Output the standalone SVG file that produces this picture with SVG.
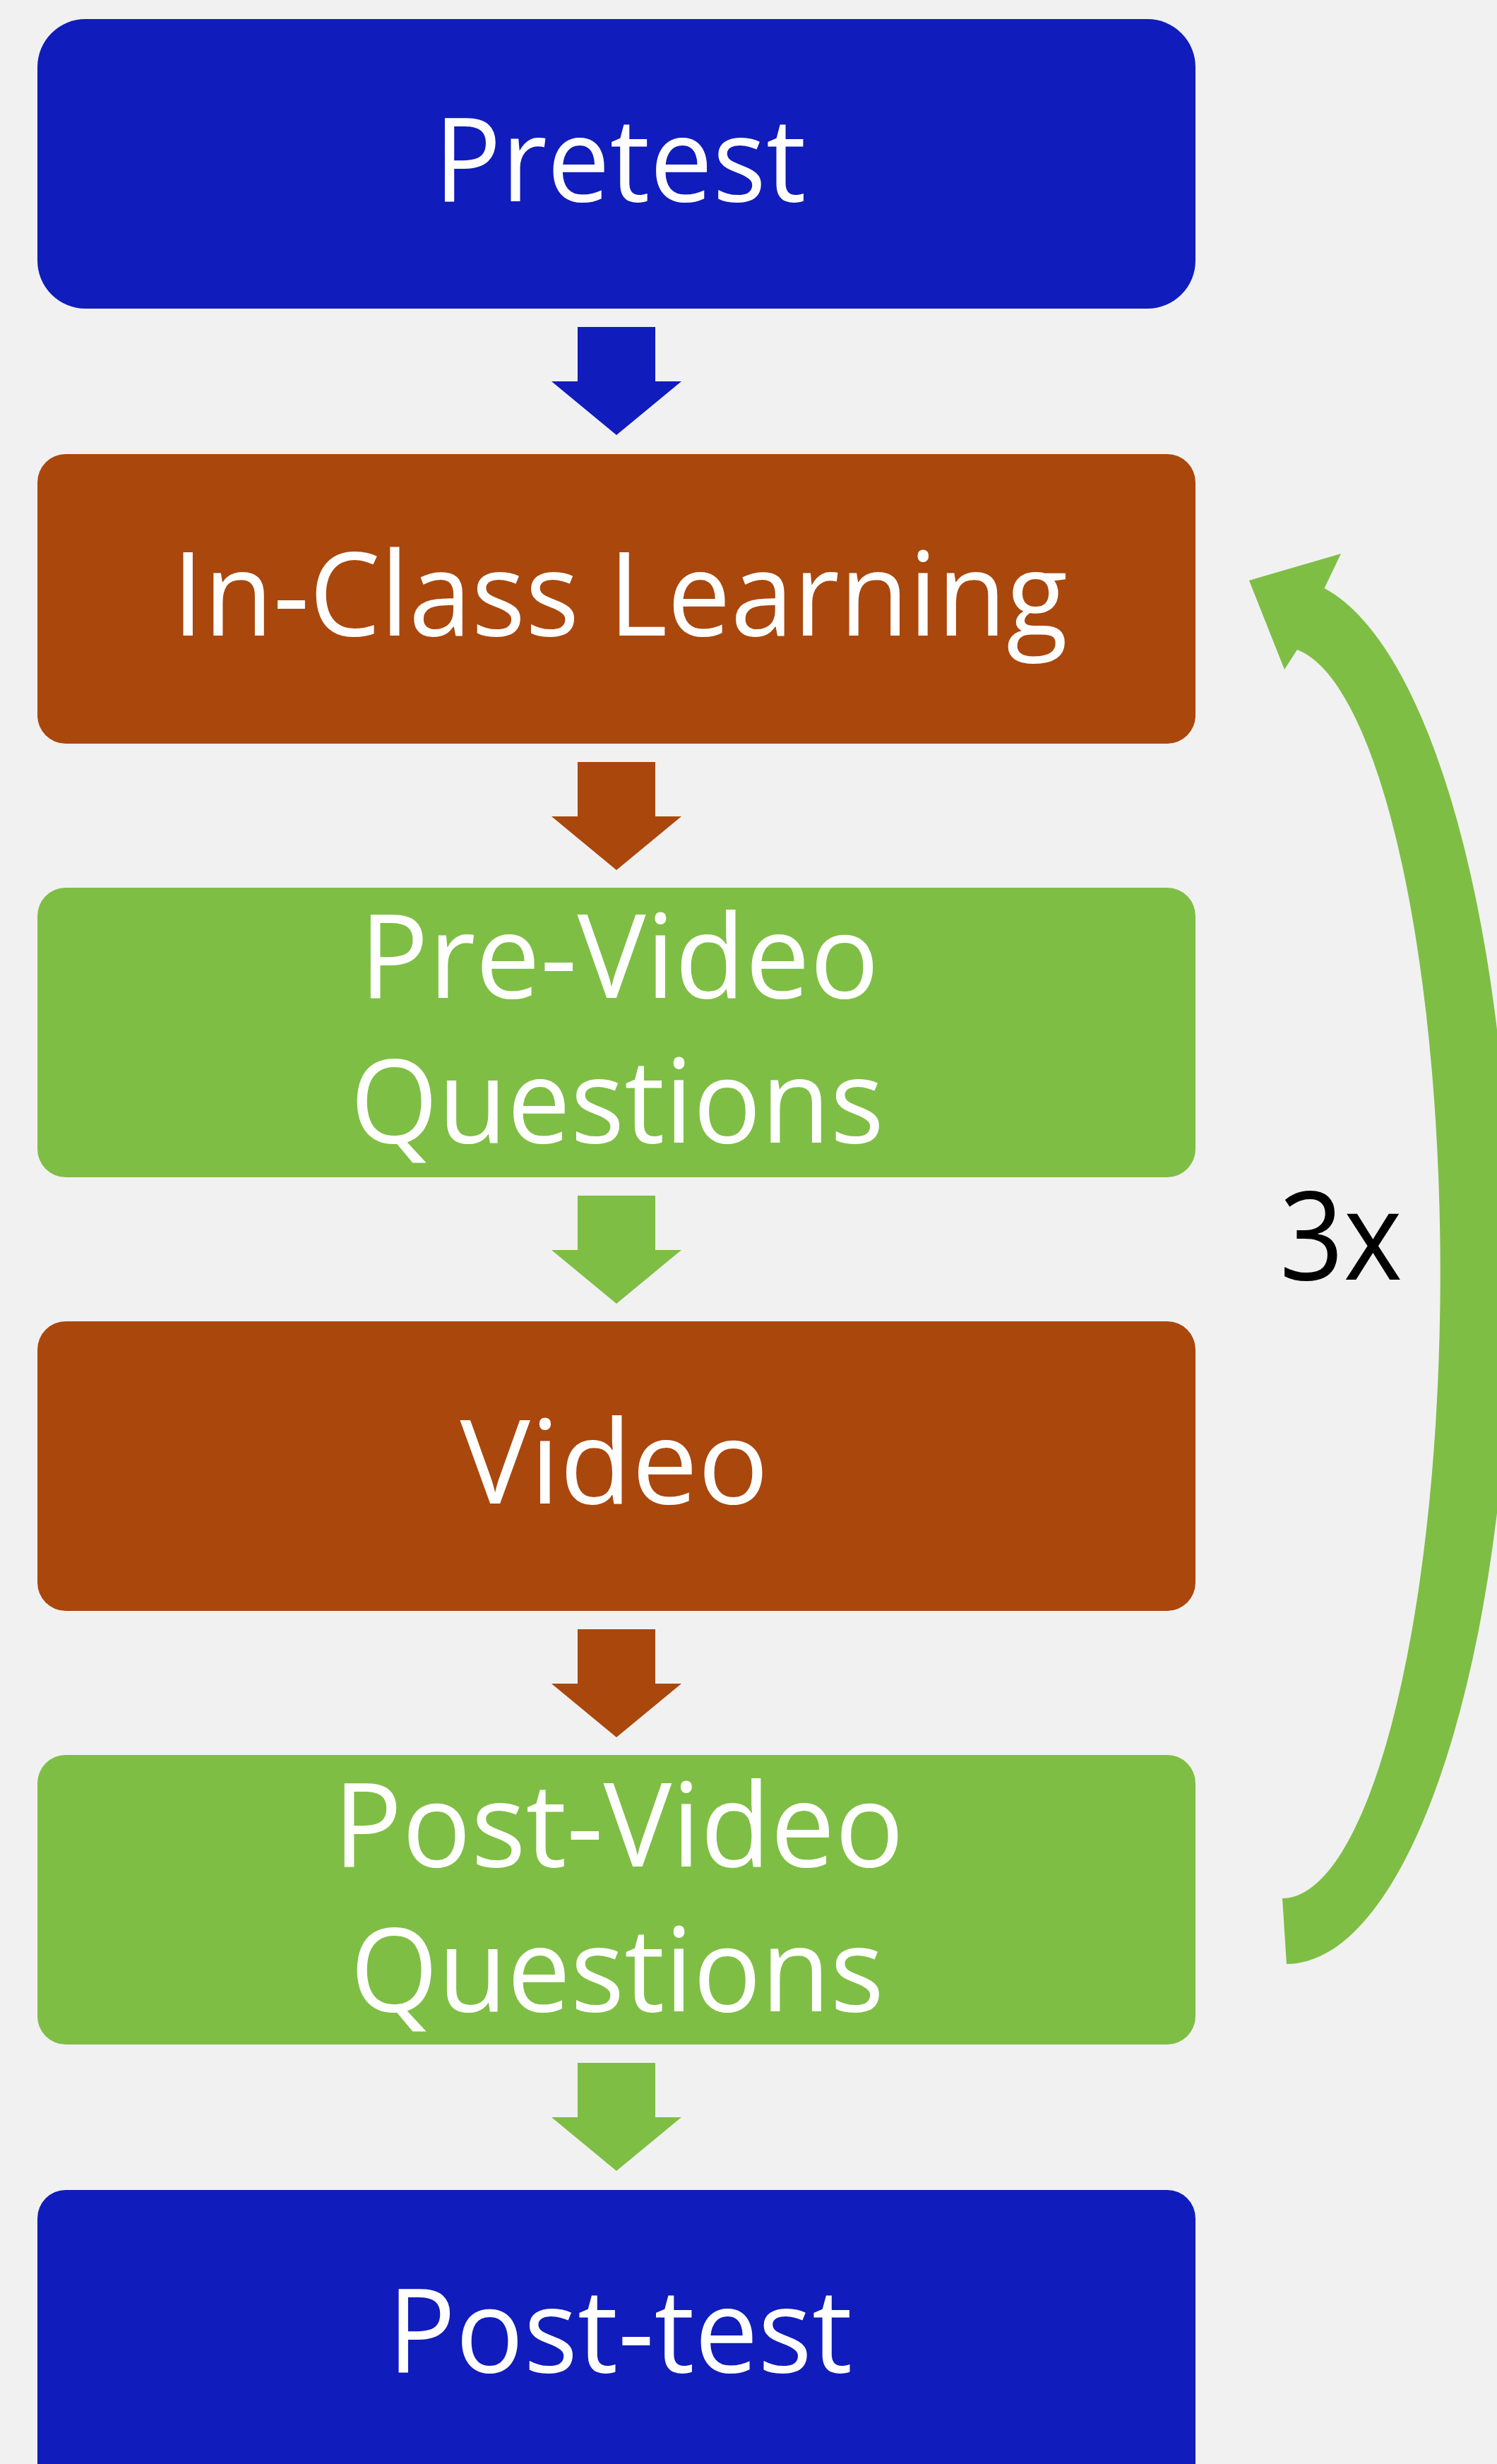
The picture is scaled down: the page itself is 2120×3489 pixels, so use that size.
<svg xmlns="http://www.w3.org/2000/svg" xmlns:xlink="http://www.w3.org/1999/xlink" width="2120" height="3489" viewBox="0 0 2120 3489">
  <style>
    .blue { fill: #101CBB; }
    .orange { fill: #AA470D; }
    .green { fill: #7FBE44; }
    .label { fill: #FFFFFF; font-family: "Open Sans", "Noto Sans", sans-serif; font-size: 165px; text-anchor: middle; }
    .note { fill: #000000; font-family: "Open Sans", "Noto Sans", sans-serif; font-size: 175px; }
  </style>
  <defs>
    <polygon id="down" points="818,26 928,26 928,103 965,103 873,179 781,103 818,103"/>
  </defs>
  <rect x="0" y="0" width="2120" height="3489" fill="#F1F1F1"/>

  <g id="connectors">
    <use xlink:href="#down" href="#down" class="blue" transform="translate(0,437)"/>
    <use xlink:href="#down" href="#down" class="orange" transform="translate(0,1053)"/>
    <use xlink:href="#down" href="#down" class="green" transform="translate(0,1667)"/>
    <use xlink:href="#down" href="#down" class="orange" transform="translate(0,2281)"/>
    <use xlink:href="#down" href="#down" class="green" transform="translate(0,2895)"/>
    <path id="loop" class="green" d="M 1822 2781 A 318 981 0 0 0 1875.5 833 L 1899 784 L 1769 822 L 1819 948 L 1837 920 A 224 886 0 0 1 1816 2688 Z"/>
  </g>

  <g id="pretest">
    <rect class="blue" x="53" y="27" width="1640" height="410" rx="68" ry="68"/>
    <text class="label" x="878" y="285" textLength="527" lengthAdjust="spacingAndGlyphs">Pretest</text>
  </g>
  <g id="in-class-learning">
    <rect class="orange" x="53" y="643" width="1640" height="410" rx="40" ry="40"/>
    <text class="label" x="878" y="900" textLength="1268" lengthAdjust="spacingAndGlyphs">In-Class Learning</text>
  </g>
  <g id="pre-video-questions">
    <rect class="green" x="53" y="1257" width="1640" height="410" rx="40" ry="40"/>
    <text class="label" x="877" y="1413" textLength="736" lengthAdjust="spacingAndGlyphs">Pre-Video</text>
    <text class="label" x="874" y="1618" textLength="756" lengthAdjust="spacingAndGlyphs">Questions</text>
  </g>
  <g id="video">
    <rect class="orange" x="53" y="1871" width="1640" height="410" rx="40" ry="40"/>
    <text class="label" x="870" y="2129" textLength="437" lengthAdjust="spacingAndGlyphs">Video</text>
  </g>
  <g id="post-video-questions">
    <rect class="green" x="53" y="2485" width="1640" height="410" rx="40" ry="40"/>
    <text class="label" x="876" y="2643" textLength="808" lengthAdjust="spacingAndGlyphs">Post-Video</text>
    <text class="label" x="874" y="2848" textLength="756" lengthAdjust="spacingAndGlyphs">Questions</text>
  </g>
  <g id="post-test">
    <rect class="blue" x="53" y="3101" width="1640" height="430" rx="40" ry="40"/>
    <text class="label" x="878" y="3359" textLength="658" lengthAdjust="spacingAndGlyphs">Post-test</text>
  </g>
  <g id="repeat-label">
    <text class="note" x="1812" y="1812" textLength="174" lengthAdjust="spacingAndGlyphs">3x</text>
  </g>
</svg>
